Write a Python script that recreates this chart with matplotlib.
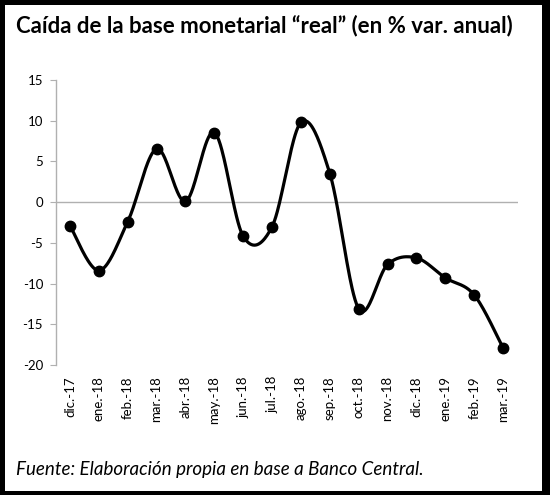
import numpy as np
import matplotlib
matplotlib.use("Agg")
import matplotlib.pyplot as plt
from matplotlib.patches import Rectangle

months = ["dic.-17", "ene.-18", "feb.-18", "mar.-18", "abr.-18", "may.-18",
          "jun.-18", "jul.-18", "ago.-18", "sep.-18", "oct.-18", "nov.-18",
          "dic.-18", "ene.-19", "feb.-19", "mar.-19"]
values = [-2.9, -8.4, -2.4, 6.55, 0.1, 8.55, -4.2, -3.0, 9.8, 3.5,
          -13.1, -7.65, -6.85, -9.3, -11.4, -17.9]
yticks = [-20, -15, -10, -5, 0, 5, 10, 15]

title = "Caída de la base monetarial “real” (en % var. anual)"
source = "Fuente: Elaboración propia en base a Banco Central."

plt.rcParams['font.family'] = ['Lato', 'DejaVu Sans']

fig = plt.figure(figsize=(5.5, 4.95), dpi=100)
ax = fig.add_axes([0.101, 0.2626, 0.840, 0.5758])

x = np.arange(len(values), dtype=float)
y = np.array(values, dtype=float)

# Smoothed line (Catmull-Rom style Bezier, like spreadsheet smoothing)
xs, ys = [], []
n = len(x)
t = np.linspace(0, 1, 40)
for i in range(n - 1):
    p0 = np.array([x[i], y[i]])
    p3 = np.array([x[i + 1], y[i + 1]])
    pm = np.array([x[max(i - 1, 0)], y[max(i - 1, 0)]])
    pp = np.array([x[min(i + 2, n - 1)], y[min(i + 2, n - 1)]])
    c1 = p0 + (p3 - pm) / 6.0
    c2 = p3 - (pp - p0) / 6.0
    b = ((1 - t) ** 3)[:, None] * p0 + (3 * (1 - t) ** 2 * t)[:, None] * c1 \
        + (3 * (1 - t) * t ** 2)[:, None] * c2 + (t ** 3)[:, None] * p3
    xs.extend(b[:, 0]); ys.extend(b[:, 1])

ax.axhline(0, color="#b0b0b0", lw=1.0, zorder=1)
ax.plot(xs, ys, color="black", lw=2.3, zorder=2, solid_capstyle="round")
ax.plot(x, y, "o", color="black", ms=7.5, zorder=3)

ax.set_xlim(-0.5, n - 0.5)
ax.set_ylim(-20, 15)
ax.set_yticks(yticks)
ax.set_yticklabels([str(v) for v in yticks], fontsize=9.5)
ax.set_xticks(x)
ax.set_xticklabels(months, rotation=90, fontsize=9.5, va="top")
ax.tick_params(axis="x", length=0, pad=8)
ax.tick_params(axis="y", length=4, color="#b0b0b0", pad=5)
for s in ["top", "right", "bottom"]:
    ax.spines[s].set_visible(False)
ax.spines["left"].set_color("#b0b0b0")
ax.spines["left"].set_linewidth(1.0)

fig.text(0.029, 0.934, title, fontsize=16, fontweight="bold", ha="left", va="baseline")
fig.text(0.029, 0.040, source, fontsize=13.5, style="italic", ha="left", va="baseline")

# black frame
W, H = 550.0, 495.0
for (x0, y0, w, h) in [(0, 0, 5, 495), (542, 0, 8, 495), (0, 0, 550, 4), (0, 490, 550, 5)]:
    fig.patches.append(Rectangle((x0 / W, y0 / H), w / W, h / H, transform=fig.transFigure,
                                 facecolor="black", edgecolor="none", zorder=10))

fig.savefig("out.png", dpi=100)
